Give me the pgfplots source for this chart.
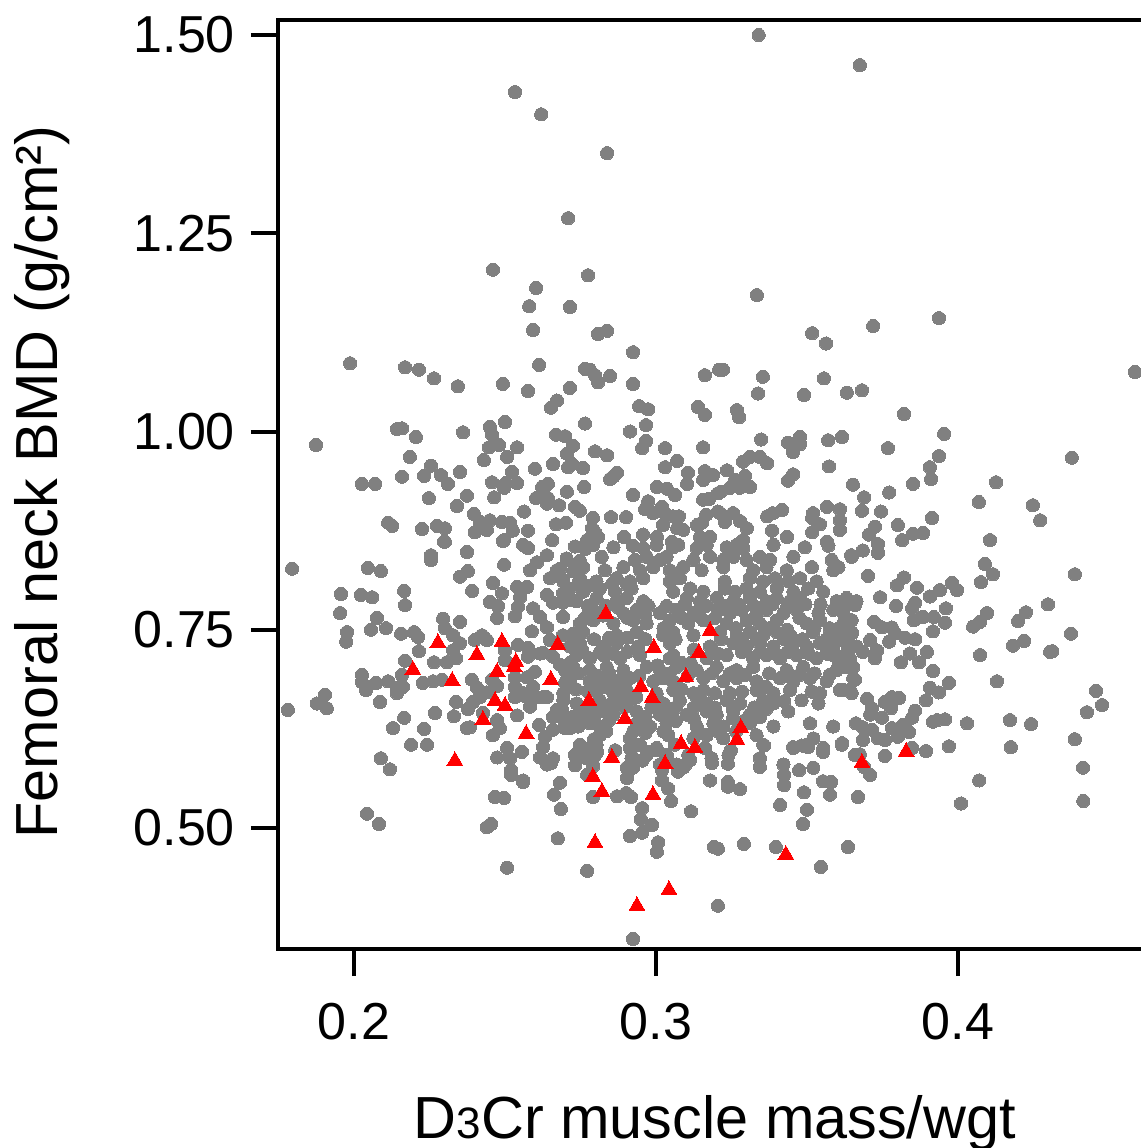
\documentclass[border=0pt]{standalone}
\usepackage{fontspec}
\setmainfont{Liberation Sans}
\usepackage{pgfplots}
\pgfplotsset{compat=1.18}
\definecolor{dotgray}{RGB}{128,128,128}
\begin{document}
\begin{tikzpicture}
\useasboundingbox (-139pt,-99.5pt) rectangle (431.5pt,474.5pt);
\begin{axis}[
 at={(0pt,0pt)},anchor=south west,
 scale only axis,width=433.5pt,height=464.5pt,
 xmin=0.17483,xmax=0.46192,ymin=0.34742,ymax=1.51892,
 xtick={0.2,0.3,0.4},xticklabels={0.2,0.3,0.4},
 ytick={0.5,0.75,1,1.25,1.5},yticklabels={0.50,0.75,1.00,1.25,1.50},
 tick pos=left,tick align=outside,
 axis line style={line width=2pt,black},
 major tick length=13.5pt,
 every tick/.style={line width=2pt,black},
 xtick style={line width=2pt,black},ytick style={line width=2pt,black},
 xticklabel style={font=\fontsize{26}{30}\selectfont,yshift=-10pt},
 yticklabel style={font=\fontsize{26}{30}\selectfont,xshift=-4.5pt},
 clip mode=individual,
 clip=false,
]
\addplot[only marks,color=dotgray,mark=*,mark size=3.3pt,mark options={draw=dotgray,fill=dotgray,line width=0pt}] coordinates {
(0.334,1.5)(0.3675,1.462)(0.2533,1.428)(0.262,1.4)(0.2838,1.351)(0.2709,1.269)(0.246,1.204)(0.2775,1.197)(0.2603,1.181)(0.3334,1.172)(0.258,1.158)(0.2715,1.157)(0.3719,1.133)(0.3937,1.143)(0.3517,1.124)(0.3563,1.111)(0.2593,1.128)(0.2808,1.123)(0.2838,1.127)(0.2924,1.1)
(0.1987,1.086)(0.2169,1.081)(0.2215,1.078)(0.2265,1.067)(0.2344,1.057)(0.2493,1.06)(0.2576,1.051)(0.2613,1.084)(0.2715,1.055)(0.2672,1.039)(0.2652,1.03)(0.2765,1.079)(0.2781,1.078)(0.2798,1.071)(0.2808,1.062)(0.2848,1.07)(0.2924,1.06)(0.2944,1.032)(0.2974,1.028)(0.2967,1.008)(0.2914,1.0)(0.2967,0.988)(0.2954,0.979)(0.303,0.979)(0.3156,0.98)(0.3162,1.071)(0.3209,1.078)(0.3139,1.031)(0.3162,1.021)(0.307,0.963)(0.303,0.955)(0.3106,0.948)(0.3103,0.934)(0.3162,0.95)(0.3156,0.939)(0.3189,0.945)(0.3003,0.93)(0.3036,0.928)(0.3063,0.92)(0.2924,0.92)(0.2762,0.93)(0.2871,0.948)(0.2848,0.94)(0.2858,0.943)(0.2798,0.975)(0.2838,0.97)(0.2765,1.01)(0.2669,0.996)(0.2699,0.994)(0.2725,0.982)(0.2705,0.972)(0.2659,0.959)(0.2722,0.959)(0.2709,0.955)(0.2758,0.954)(0.2599,0.953)(0.25,1.012)(0.245,1.006)(0.2457,0.996)(0.2447,0.98)(0.248,0.983)(0.2361,0.999)(0.254,0.98)(0.2507,0.968)(0.243,0.964)(0.2523,0.949)(0.2159,1.004)(0.2142,1.003)(0.2205,0.993)(0.1874,0.983)(0.2185,0.968)(0.2255,0.957)(0.2159,0.943)(0.2232,0.944)(0.2288,0.945)(0.2311,0.934)(0.2351,0.949)(0.2026,0.934)(0.207,0.934)(0.2457,0.936)(0.2503,0.935)(0.2497,0.929)(0.254,0.935)(0.2248,0.916)(0.2374,0.919)(0.2341,0.906)(0.2464,0.917)(0.2397,0.896)(0.2417,0.886)(0.245,0.888)(0.24,0.873)(0.244,0.876)(0.249,0.886)(0.2517,0.885)(0.2526,0.875)(0.2563,0.899)(0.2576,0.875)(0.2623,0.93)(0.2642,0.934)(0.2603,0.916)(0.2642,0.916)(0.2639,0.909)(0.2679,0.907)(0.2705,0.924)(0.2732,0.905)(0.2748,0.9)(0.2669,0.883)(0.2702,0.885)(0.2791,0.891)(0.2788,0.878)(0.2798,0.873)(0.2851,0.892)(0.2901,0.892)(0.2974,0.912)(0.2964,0.902)(0.299,0.897)(0.302,0.905)(0.303,0.897)(0.3056,0.893)(0.3076,0.893)(0.3023,0.882)(0.3156,0.914)(0.3176,0.915)(0.3205,0.922)(0.3166,0.895)(0.3152,0.885)(0.3205,0.899)(0.307,0.878)(0.309,0.876)(0.3136,0.882)(0.2894,0.867)(0.2957,0.87)(0.3003,0.867)(0.3053,0.861)(0.3146,0.867)(0.3179,0.867)(0.2126,0.881)(0.2113,0.885)(0.2225,0.877)(0.2275,0.881)(0.2301,0.878)(0.2298,0.861)(0.2497,0.863)(0.2656,0.863)(0.2772,0.863)(0.2808,0.867)
(0.3222,1.078)(0.3354,1.069)(0.3338,1.048)(0.349,1.046)(0.3556,1.067)(0.3632,1.049)(0.3682,1.052)(0.3821,1.022)(0.3954,0.997)(0.4586,1.075)(0.3268,1.027)(0.3275,1.018)(0.3768,0.979)(0.3937,0.969)(0.3907,0.955)(0.3911,0.94)(0.3851,0.934)(0.4377,0.967)(0.4126,0.936)(0.4069,0.911)(0.4248,0.907)(0.4272,0.888)(0.3348,0.99)(0.3437,0.986)(0.3477,0.993)(0.3477,0.984)(0.3454,0.974)(0.357,0.989)(0.3616,0.993)(0.3573,0.956)(0.3288,0.962)(0.3311,0.968)(0.3344,0.968)(0.3368,0.96)(0.3235,0.951)(0.3454,0.946)(0.3437,0.938)(0.3295,0.944)(0.3262,0.939)(0.3311,0.93)(0.3278,0.929)(0.3245,0.929)(0.3215,0.924)(0.3652,0.933)(0.3689,0.917)(0.3682,0.9)(0.3772,0.923)(0.3745,0.899)(0.3914,0.891)(0.3801,0.882)(0.3725,0.88)(0.3705,0.87)(0.3851,0.871)(0.3884,0.872)(0.3566,0.905)(0.3609,0.902)(0.3609,0.888)(0.3609,0.876)(0.352,0.897)(0.3517,0.891)(0.3543,0.883)(0.3517,0.873)(0.3417,0.901)(0.3387,0.897)(0.3368,0.893)(0.3384,0.875)(0.3212,0.897)(0.3255,0.897)(0.3228,0.886)(0.3278,0.887)(0.3301,0.878)(0.3434,0.867)(0.3566,0.861)(0.3288,0.863)(0.3815,0.863)(0.4106,0.863)
(0.4089,0.833)(0.4116,0.82)(0.4076,0.81)(0.4387,0.82)(0.4298,0.782)(0.4225,0.772)(0.4199,0.761)(0.4096,0.771)(0.4073,0.76)(0.405,0.754)(0.4374,0.745)(0.4219,0.736)(0.4182,0.73)(0.4305,0.722)(0.4312,0.723)(0.4073,0.718)(0.4129,0.685)(0.4457,0.673)(0.4477,0.655)(0.4427,0.646)(0.4172,0.636)(0.4242,0.631)(0.403,0.632)(0.4387,0.612)(0.4175,0.602)(0.4414,0.576)(0.4415,0.534)(0.401,0.531)(0.407,0.56)(0.397,0.603)(0.3894,0.597)(0.3848,0.601)(0.3758,0.591)(0.3675,0.593)(0.3709,0.567)(0.3689,0.577)(0.3616,0.607)(0.3931,0.636)(0.3957,0.637)(0.3917,0.634)(0.3858,0.648)(0.3848,0.639)(0.3838,0.621)(0.3801,0.615)(0.3818,0.63)(0.3781,0.626)(0.3748,0.639)(0.3709,0.643)(0.3735,0.613)(0.3758,0.611)(0.3715,0.624)(0.3685,0.611)(0.3662,0.632)(0.3685,0.627)(0.3699,0.663)(0.3715,0.651)(0.3758,0.659)(0.3781,0.665)(0.3805,0.664)(0.3778,0.651)(0.3894,0.661)(0.3907,0.677)(0.3937,0.671)(0.397,0.683)(0.3917,0.698)(0.3871,0.709)(0.3811,0.709)(0.3897,0.722)(0.3772,0.735)(0.3841,0.72)(0.3858,0.738)(0.3825,0.74)(0.3791,0.746)(0.3917,0.748)(0.3957,0.759)(0.392,0.766)(0.3884,0.766)(0.3854,0.762)(0.3848,0.777)(0.3858,0.784)(0.396,0.777)(0.3795,0.78)(0.3742,0.791)(0.3722,0.76)(0.3748,0.753)(0.3781,0.753)(0.3907,0.792)(0.394,0.8)(0.398,0.809)(0.3997,0.8)(0.3864,0.803)(0.3798,0.806)(0.3821,0.816)(0.3702,0.818)(0.3646,0.844)(0.3685,0.85)(0.3735,0.858)(0.3735,0.847)(0.3709,0.737)(0.3685,0.722)(0.3725,0.714)(0.3732,0.724)(0.3636,0.724)(0.3609,0.716)(0.3649,0.746)(0.3626,0.765)(0.3659,0.781)(0.3632,0.785)(0.3626,0.703)(0.3659,0.687)(0.3642,0.674)(0.3609,0.674)
(0.1795,0.827)(0.2046,0.828)(0.2089,0.824)(0.1957,0.795)(0.2023,0.794)(0.206,0.791)(0.2166,0.799)(0.2169,0.781)(0.1954,0.771)(0.2076,0.765)(0.2106,0.752)(0.1977,0.747)(0.1974,0.735)(0.2056,0.75)(0.2156,0.745)(0.2199,0.747)(0.2212,0.741)(0.2295,0.764)(0.2301,0.752)(0.2351,0.76)(0.2328,0.743)(0.2351,0.733)(0.2328,0.724)(0.2338,0.714)(0.2308,0.709)(0.2215,0.723)(0.2169,0.711)(0.2265,0.709)(0.24,0.737)(0.2424,0.743)(0.244,0.737)(0.25,0.724)(0.25,0.712)(0.2543,0.731)(0.2576,0.727)(0.2616,0.72)(0.2576,0.716)(0.2589,0.748)(0.2474,0.765)(0.2533,0.767)(0.245,0.785)(0.2477,0.78)(0.2391,0.799)(0.246,0.809)(0.249,0.796)(0.2351,0.817)(0.2377,0.824)(0.2497,0.832)(0.2374,0.848)(0.2255,0.844)(0.2255,0.838)(0.2301,0.861)(0.2493,0.862)(0.256,0.857)(0.2576,0.853)
(0.2026,0.693)(0.2026,0.684)(0.204,0.674)(0.2073,0.683)(0.2113,0.685)(0.2142,0.677)(0.2162,0.678)(0.2142,0.67)(0.2159,0.693)(0.2228,0.683)(0.2262,0.685)(0.2291,0.687)(0.239,0.687)(0.2407,0.677)(0.244,0.671)(0.2417,0.665)(0.2394,0.659)(0.2377,0.65)(0.2457,0.687)(0.2474,0.679)(0.2533,0.69)(0.2533,0.678)(0.2533,0.665)(0.2573,0.69)(0.2599,0.697)(0.2589,0.674)(0.256,0.67)(0.2583,0.653)(0.2626,0.665)(0.2699,0.683)(0.2338,0.659)(0.2086,0.659)(0.1904,0.668)(0.1877,0.657)(0.191,0.651)(0.1781,0.649)(0.2268,0.645)(0.2331,0.641)(0.2166,0.639)(0.2129,0.626)(0.2232,0.625)(0.2189,0.605)(0.2242,0.605)(0.2089,0.588)(0.2119,0.574)(0.2374,0.626)(0.2384,0.627)(0.2427,0.645)(0.2474,0.636)(0.2483,0.626)(0.246,0.617)(0.254,0.642)(0.2613,0.63)(0.2672,0.645)(0.2699,0.626)(0.2659,0.624)(0.2632,0.615)(0.2626,0.602)(0.2507,0.601)(0.2517,0.588)(0.2474,0.589)(0.252,0.573)(0.2556,0.596)(0.2616,0.589)(0.2659,0.588)(0.2639,0.58)(0.256,0.56)
(0.252,0.567)(0.256,0.558)(0.2652,0.582)(0.2467,0.539)(0.2497,0.538)(0.244,0.501)(0.2454,0.505)(0.2043,0.518)(0.2083,0.505)(0.2507,0.45)(0.2675,0.487)(0.2772,0.446)(0.2682,0.557)(0.2662,0.542)(0.2685,0.524)(0.2732,0.579)(0.2742,0.59)(0.2781,0.596)(0.2805,0.596)(0.2791,0.58)(0.2772,0.567)(0.2791,0.539)(0.2871,0.54)(0.2901,0.544)(0.2917,0.539)(0.2921,0.602)(0.2921,0.59)(0.2921,0.58)(0.2904,0.563)(0.2924,0.576)(0.2971,0.596)(0.3003,0.598)(0.3036,0.592)(0.302,0.573)(0.302,0.56)(0.304,0.55)(0.305,0.534)(0.3116,0.521)(0.3073,0.571)(0.3096,0.579)(0.3113,0.586)(0.3185,0.582)(0.3238,0.581)(0.3179,0.56)(0.3238,0.558)(0.3238,0.552)(0.3278,0.549)(0.3344,0.577)(0.3424,0.567)(0.3424,0.554)(0.3474,0.573)(0.3411,0.529)(0.349,0.545)(0.35,0.523)(0.3487,0.505)(0.3553,0.596)(0.3553,0.559)(0.358,0.558)(0.3576,0.542)(0.3669,0.539)(0.3454,0.602)(0.3483,0.604)(0.3503,0.602)(0.3358,0.604)(0.3248,0.598)(0.3192,0.476)(0.3205,0.474)(0.3291,0.48)(0.3397,0.476)(0.3636,0.476)(0.3546,0.451)(0.3205,0.402)(0.2924,0.36)(0.2954,0.525)(0.295,0.511)(0.2987,0.504)(0.2954,0.494)(0.2914,0.49)(0.3007,0.482)(0.3003,0.47)
(0.2705,0.838)(0.2672,0.825)(0.2649,0.815)(0.2606,0.835)(0.2639,0.844)(0.2583,0.825)(0.254,0.804)(0.2573,0.804)(0.255,0.791)(0.2543,0.779)(0.2593,0.777)(0.2639,0.794)(0.2659,0.784)(0.2692,0.813)(0.2692,0.796)(0.2692,0.784)(0.2715,0.788)(0.2616,0.766)(0.2639,0.753)(0.2649,0.737)(0.2626,0.721)(0.2659,0.716)(0.2692,0.766)(0.2692,0.743)(0.2682,0.706)(0.2715,0.708)(0.2715,0.683)(0.2705,0.687)(0.2593,0.678)(0.2573,0.665)(0.2606,0.665)(0.2639,0.665)(0.2672,0.649)(0.2659,0.64)(0.2689,0.649)(0.2715,0.626)
(0.2732,0.855)(0.2765,0.852)(0.2792,0.857)(0.2859,0.854)(0.2923,0.856)(0.2958,0.853)(0.3002,0.857)(0.3057,0.854)(0.3074,0.857)(0.3135,0.853)(0.3168,0.857)(0.3234,0.854)(0.3267,0.857)(0.3289,0.853)(0.3389,0.857)(0.3493,0.854)(0.3571,0.856)
(0.2704,0.84)(0.2748,0.837)(0.282,0.842)(0.293,0.838)(0.2969,0.842)(0.3013,0.838)(0.3035,0.842)(0.3124,0.838)(0.3179,0.842)(0.3223,0.838)(0.3256,0.842)(0.33,0.838)(0.3344,0.842)(0.3378,0.838)(0.3455,0.842)(0.3582,0.838)(0.3648,0.842)
(0.2682,0.827)(0.2726,0.824)(0.2759,0.829)(0.2831,0.825)(0.2892,0.829)(0.2947,0.825)(0.2991,0.829)(0.3046,0.825)(0.309,0.829)(0.3151,0.825)(0.3223,0.829)(0.3322,0.825)(0.3366,0.829)(0.3433,0.825)(0.3516,0.829)(0.3587,0.825)(0.3604,0.829)
(0.2693,0.811)(0.2748,0.815)(0.2803,0.811)(0.287,0.815)(0.2914,0.811)(0.2958,0.815)(0.3046,0.811)(0.3079,0.815)(0.3228,0.811)(0.3311,0.815)(0.3355,0.811)(0.3394,0.815)(0.3438,0.811)(0.3477,0.815)(0.3532,0.811)
(0.2715,0.802)(0.2759,0.798)(0.2814,0.802)(0.2864,0.798)(0.2919,0.802)(0.3057,0.798)(0.3113,0.802)(0.3157,0.798)(0.3228,0.802)(0.3262,0.798)(0.33,0.802)(0.3344,0.798)(0.34,0.802)(0.3455,0.798)(0.3504,0.802)(0.3554,0.798)
(0.2693,0.79)(0.2737,0.786)(0.2803,0.79)(0.287,0.786)(0.2903,0.79)(0.2958,0.786)(0.3102,0.79)(0.3146,0.786)(0.3201,0.79)(0.3256,0.786)(0.3311,0.79)(0.3366,0.786)(0.34,0.79)(0.3444,0.786)(0.3477,0.79)(0.3598,0.786)(0.3631,0.79)(0.3664,0.786)
(0.2792,0.775)(0.2892,0.771)(0.2936,0.775)(0.3013,0.771)(0.3068,0.775)(0.3124,0.771)(0.3206,0.775)(0.3245,0.771)(0.3284,0.775)(0.3333,0.771)(0.3366,0.775)(0.3422,0.771)(0.3466,0.775)(0.3538,0.771)(0.3587,0.775)(0.362,0.771)
(0.2748,0.758)(0.2792,0.762)(0.2859,0.758)(0.2925,0.762)(0.2969,0.758)(0.3046,0.762)(0.3107,0.758)(0.3157,0.762)(0.3234,0.758)(0.33,0.762)(0.3344,0.758)(0.34,0.762)(0.3499,0.758)(0.3543,0.762)(0.362,0.758)(0.3648,0.762)
(0.2759,0.747)(0.287,0.743)(0.2936,0.747)(0.3024,0.743)(0.3057,0.747)(0.3124,0.743)(0.3212,0.747)(0.3267,0.743)(0.3311,0.747)(0.3355,0.743)(0.34,0.747)(0.3444,0.743)(0.3521,0.747)(0.3576,0.743)(0.3648,0.747)
(0.2715,0.729)(0.2748,0.733)(0.2826,0.729)(0.287,0.733)(0.2941,0.729)(0.3046,0.733)(0.3179,0.729)(0.3256,0.733)(0.33,0.729)(0.3344,0.733)(0.3389,0.729)(0.3455,0.733)(0.3499,0.729)(0.3543,0.733)(0.3587,0.729)(0.3631,0.733)(0.3664,0.729)
(0.2737,0.718)(0.2781,0.714)(0.2826,0.718)(0.2881,0.714)(0.2947,0.718)(0.3046,0.714)(0.3057,0.718)(0.3168,0.714)(0.3234,0.718)(0.3322,0.714)(0.3366,0.718)(0.3411,0.714)(0.3466,0.718)(0.3532,0.714)(0.3587,0.718)(0.3642,0.714)
(0.2699,0.699)(0.2726,0.703)(0.2781,0.699)(0.2837,0.703)(0.2892,0.699)(0.2969,0.703)(0.3013,0.699)(0.3068,0.703)(0.3135,0.699)(0.3201,0.703)(0.3267,0.699)(0.3322,0.703)(0.3433,0.699)(0.3488,0.703)(0.3598,0.699)(0.3653,0.703)
(0.2715,0.689)(0.2781,0.685)(0.2826,0.689)(0.287,0.685)(0.2914,0.689)(0.2991,0.685)(0.3024,0.689)(0.3057,0.685)(0.3157,0.689)(0.3223,0.685)(0.3267,0.689)(0.3333,0.685)(0.3411,0.689)(0.3455,0.685)(0.351,0.689)(0.3565,0.685)(0.3653,0.689)
(0.2693,0.67)(0.2803,0.674)(0.2859,0.67)(0.2903,0.674)(0.3002,0.67)(0.3057,0.674)(0.3124,0.67)(0.3157,0.674)(0.3245,0.67)(0.3333,0.674)(0.3389,0.67)(0.3444,0.674)(0.3543,0.67)(0.362,0.674)(0.3648,0.67)
(0.2693,0.661)(0.2737,0.657)(0.2814,0.661)(0.287,0.657)(0.2914,0.661)(0.3024,0.657)(0.3079,0.661)(0.3168,0.657)(0.3234,0.661)(0.3278,0.657)(0.3355,0.661)(0.3389,0.657)(0.3482,0.661)(0.3538,0.657)
(0.2682,0.643)(0.2748,0.647)(0.2792,0.643)(0.2826,0.647)(0.2859,0.643)(0.2936,0.647)(0.3013,0.643)(0.3035,0.647)(0.3102,0.643)(0.3168,0.647)(0.3201,0.643)(0.3256,0.647)(0.3311,0.643)(0.3438,0.647)
(0.2699,0.632)(0.2743,0.628)(0.2781,0.632)(0.2814,0.628)(0.2936,0.632)(0.298,0.628)(0.3035,0.632)(0.3135,0.628)(0.319,0.632)(0.3223,0.628)(0.3311,0.632)(0.3389,0.628)(0.351,0.632)(0.3587,0.628)
(0.2814,0.617)(0.2914,0.613)(0.3041,0.617)(0.3124,0.613)(0.3168,0.617)(0.3223,0.613)(0.3333,0.617)(0.3521,0.613)
(0.2748,0.605)(0.2781,0.601)(0.2803,0.605)(0.2914,0.601)(0.2947,0.605)(0.3002,0.601)(0.3063,0.605)(0.3162,0.601)(0.3355,0.605)(0.3455,0.601)(0.3499,0.605)(0.3554,0.601)(0.3615,0.605)
(0.2732,0.592)(0.277,0.588)(0.2798,0.592)(0.2919,0.588)(0.2969,0.592)(0.3035,0.588)(0.3107,0.592)(0.3184,0.588)(0.324,0.592)(0.3344,0.588)(0.3659,0.592)
(0.2792,0.578)(0.2903,0.576)(0.3013,0.58)(0.309,0.576)(0.3068,0.58)(0.3521,0.576)(0.3422,0.58)
(0.2745,0.81)(0.2775,0.805)(0.2855,0.808)(0.2905,0.806)(0.2775,0.78)(0.2835,0.78)(0.2875,0.778)(0.2975,0.78)(0.3035,0.78)(0.3095,0.782)(0.3165,0.78)(0.3225,0.78)(0.3275,0.782)(0.3325,0.78)(0.3385,0.782)(0.3435,0.78)(0.3495,0.782)(0.3545,0.782)
(0.2765,0.765)(0.2825,0.768)(0.2905,0.765)(0.2965,0.768)(0.3025,0.752)(0.3085,0.765)(0.3145,0.767)(0.3195,0.765)(0.3265,0.752)(0.3325,0.765)(0.3375,0.752)(0.3435,0.75)(0.3475,0.765)(0.3525,0.752)(0.3575,0.752)(0.3605,0.752)
(0.2725,0.745)(0.2795,0.738)(0.2845,0.74)(0.2905,0.74)(0.2965,0.738)(0.3065,0.738)(0.3125,0.725)(0.3215,0.738)(0.3285,0.738)(0.3335,0.738)(0.3425,0.738)(0.3485,0.738)(0.3565,0.738)(0.3615,0.74)
(0.2755,0.725)(0.2815,0.722)(0.2855,0.72)(0.2905,0.722)(0.3005,0.705)(0.3085,0.708)(0.3115,0.708)(0.3205,0.72)(0.3285,0.722)(0.3345,0.722)(0.3395,0.72)(0.3435,0.722)(0.3505,0.72)(0.3565,0.72)(0.3605,0.708)
(0.2745,0.695)(0.2805,0.692)(0.2845,0.695)(0.2905,0.69)(0.2945,0.692)(0.3045,0.695)(0.3105,0.692)(0.3185,0.695)(0.3245,0.695)(0.3295,0.693)(0.3375,0.695)(0.3425,0.692)(0.3475,0.693)(0.3525,0.695)(0.3575,0.693)
(0.2735,0.675)(0.2775,0.672)(0.2835,0.678)(0.2885,0.67)(0.2935,0.665)(0.3085,0.675)(0.3135,0.665)(0.3195,0.67)(0.3285,0.672)(0.3365,0.678)(0.3425,0.66)(0.3515,0.672)
(0.2765,0.652)(0.2805,0.655)(0.2845,0.655)(0.2895,0.652)(0.2985,0.652)(0.3065,0.652)(0.3125,0.652)(0.3195,0.652)(0.3255,0.652)(0.3325,0.652)(0.3365,0.65)
(0.2725,0.64)(0.2765,0.635)(0.2795,0.638)(0.2845,0.636)(0.2965,0.64)(0.3065,0.635)(0.3125,0.638)(0.3255,0.638)(0.3295,0.636)(0.3345,0.64)
(0.2835,0.622)(0.2925,0.622)(0.2965,0.62)(0.3025,0.622)(0.3145,0.62)(0.3205,0.622)(0.3265,0.622)(0.2795,0.612)(0.2865,0.598)(0.2955,0.585)
};
\addplot[only marks,color=red,mark=triangle*,mark size=4.6pt,mark options={draw=red,fill=red,line width=0pt}] coordinates {
(0.2278,0.7333)(0.2407,0.7182)(0.249,0.7346)(0.2195,0.6992)(0.2325,0.6854)(0.2474,0.6967)(0.2536,0.7093)(0.253,0.703)(0.2652,0.6866)(0.2675,0.7308)(0.2467,0.6602)(0.25,0.6539)(0.2427,0.6362)(0.257,0.6185)(0.2334,0.5845)(0.2834,0.7699)(0.2993,0.727)(0.3179,0.7484)(0.3142,0.7207)(0.3099,0.6904)(0.295,0.6778)(0.2987,0.6639)(0.2778,0.6602)(0.2897,0.6375)(0.3281,0.6261)(0.3268,0.611)(0.3083,0.6059)(0.3129,0.6009)(0.2854,0.5883)(0.303,0.5807)(0.2791,0.5643)(0.2821,0.5454)(0.299,0.5416)(0.2798,0.4811)(0.2937,0.4016)(0.3043,0.4218)(0.343,0.466)(0.3682,0.582)(0.3828,0.5958)
};
\end{axis}
\node[font=\fontsize{29.7}{34}\selectfont,anchor=base] at (218.5pt,-94.5pt) {D{\fontsize{22}{24}\selectfont 3}Cr muscle mass/wgt};
\node[font=\fontsize{29.7}{34}\selectfont,rotate=90,anchor=base] at (-110pt,233.5pt) {Femoral neck BMD (g/cm²)};
\end{tikzpicture}
\end{document}
